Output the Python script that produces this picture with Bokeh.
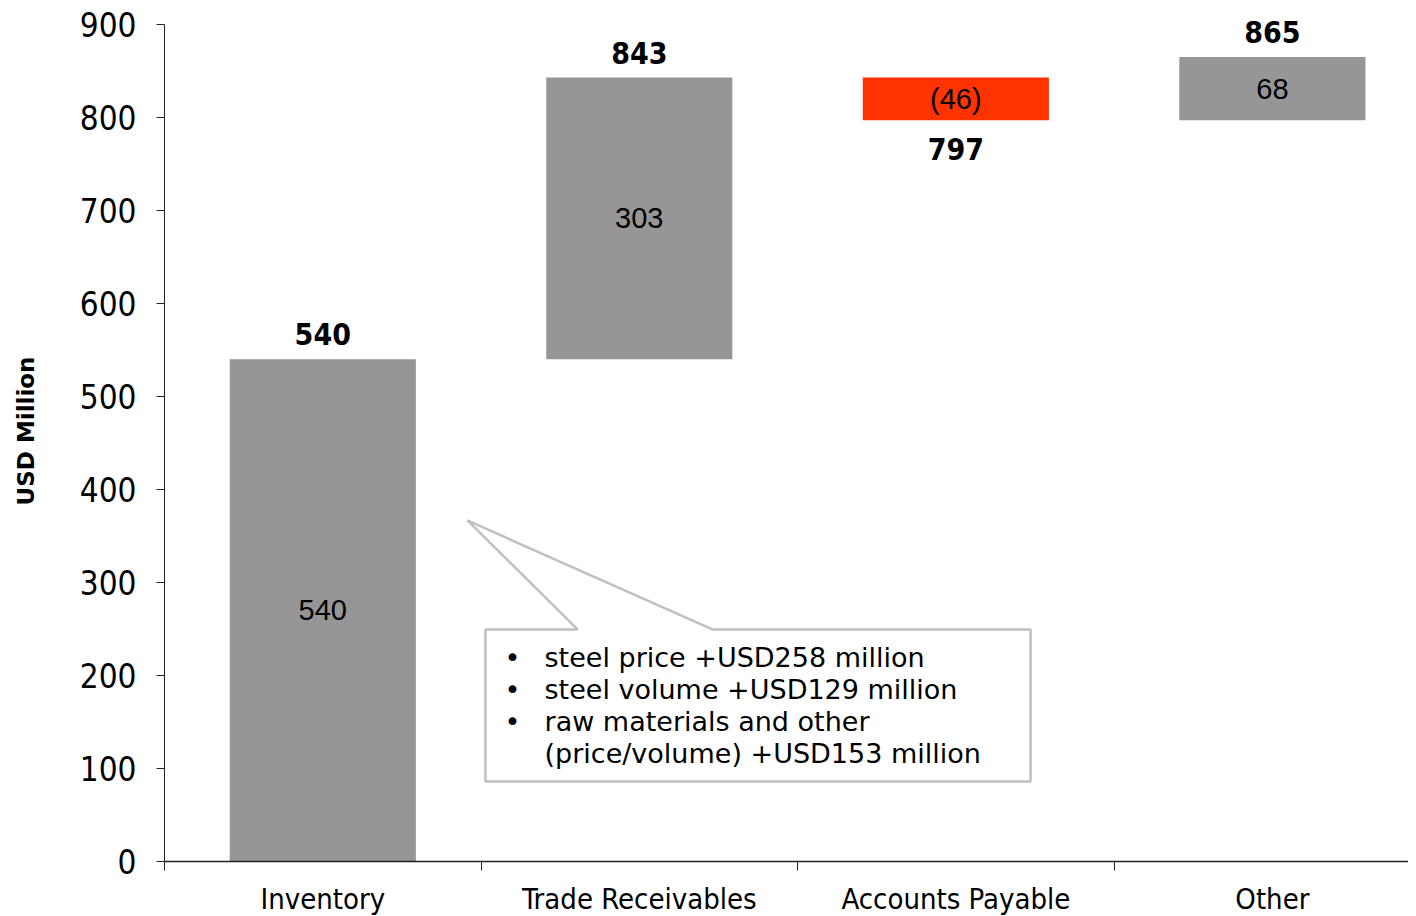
import numpy as np
from bokeh.plotting import figure
from bokeh.models import Range1d, FixedTicker
from bokeh.core.properties import value
from bokeh.embed import file_html
from bokeh.resources import INLINE

# ---- data ----
categories = ["Inventory", "Trade Receivables", "Accounts Payable", "Other"]
changes = [540, 303, -46, 68]
change_labels = ["540", "303", "(46)", "68"]
y_ticks = [0, 100, 200, 300, 400, 500, 600, 700, 800, 900]
callout_lines = ["steel price +USD258 million",
                 "steel volume +USD129 million",
                 "raw materials and other",
                 "(price/volume) +USD153 million"]
callout_bullets = [True, True, True, False]

# ---- derived ----
ends = np.cumsum(changes)
starts = ends - np.array(changes)
tops = np.maximum(starts, ends)
bottoms = np.minimum(starts, ends)
xc = np.arange(len(categories)) + 0.5
colors = ["#969696" if c >= 0 else "#FF3300" for c in changes]

GRAY_FONT = "DejaVu Sans Condensed, DejaVu Sans"

# frame extends 24px above the 900 line so top labels are not clipped
Y_MAX = 900
Y_END = Y_MAX + 24 / 0.93

p = figure(frame_width=1244, frame_height=861,
           x_range=Range1d(0, 3.93), y_range=Range1d(0, Y_END),
           output_backend="svg", toolbar_location=None,
           min_border_left=164, min_border_top=0, min_border_right=0,
           min_border_bottom=0)
p.outline_line_color = None
p.xgrid.visible = False
p.ygrid.visible = False
p.background_fill_color = "white"
p.border_fill_color = "white"

# bars
p.vbar(x=xc, width=0.588, bottom=bottoms, top=tops, fill_color=colors,
       line_color=None)

# inner labels
p.text(x=xc, y=(tops + bottoms) / 2, text=change_labels,
       text_align="center", text_baseline="middle",
       text_font=value("Liberation Sans Narrow, Liberation Sans"),
       text_font_size="29px", text_color="black")

# total labels
pos = [i for i, c in enumerate(changes) if c >= 0]
neg = [i for i, c in enumerate(changes) if c < 0]
p.text(x=xc[pos], y=tops[pos], text=[str(ends[i]) for i in pos],
       y_offset=-25, text_align="center", text_baseline="middle",
       text_font=value(GRAY_FONT), text_font_style="bold",
       text_font_size="30px", text_color="black")
p.text(x=xc[neg], y=bottoms[neg], text=[str(ends[i]) for i in neg],
       y_offset=29, text_align="center", text_baseline="middle",
       text_font=value(GRAY_FONT), text_font_style="bold",
       text_font_size="30px", text_color="black")

# callout (annotation shape, in data units)
cx = [1.305, 0.957, 1.731, 2.736, 2.736, 1.014, 1.014]
cy = [249.5, 366.7, 249.5, 249.5, 86.0, 86.0, 249.5]
p.patch(cx, cy, fill_color="white", line_color="#C0C0C0", line_width=2.5)

line_y = [219.4, 185.0, 150.5, 116.1]
p.text(x=[1.2006] * len(callout_lines), y=line_y, text=callout_lines,
       text_align="left", text_baseline="middle",
       text_font=value("DejaVu Sans"), text_font_size="27px",
       text_color="black")
by = [y for y, b in zip(line_y, callout_bullets) if b]
p.text(x=[1.0995] * len(by), y=by, text=["•"] * len(by),
       text_align="center", text_baseline="middle",
       text_font=value("DejaVu Sans"), text_font_size="27px",
       text_color="black")

# y axis
yax = p.yaxis[0]
yax.ticker = FixedTicker(ticks=y_ticks)
yax.bounds = (0, Y_MAX)
yax.major_tick_out = 8
yax.major_tick_in = 0
yax.minor_tick_line_color = None
yax.major_label_standoff = 20
yax.major_label_text_font = GRAY_FONT
yax.major_label_text_font_size = "33px"
yax.major_label_text_color = "black"
yax.axis_line_color = "#222222"
yax.major_tick_line_color = "#222222"
yax.axis_label = "USD Million"
yax.axis_label_text_font = "DejaVu Sans"
yax.axis_label_text_font_style = "bold"
yax.axis_label_text_font_size = "23px"
yax.axis_label_text_color = "black"
yax.axis_label_standoff = 38

# x axis
xax = p.xaxis[0]
xax.ticker = FixedTicker(ticks=list(xc), minor_ticks=list(range(len(categories) + 1)))
xax.major_label_overrides = {float(v): c for v, c in zip(xc, categories)}
xax.major_tick_line_color = None
xax.minor_tick_out = 9
xax.minor_tick_in = 0
xax.minor_tick_line_color = "#222222"
xax.axis_line_color = "#222222"
xax.axis_line_width = 1.5
xax.major_label_standoff = 11
xax.major_label_text_font = GRAY_FONT
xax.major_label_text_font_size = "29px"
xax.major_label_text_color = "black"

open("out.html", "w").write(file_html(p, INLINE))
